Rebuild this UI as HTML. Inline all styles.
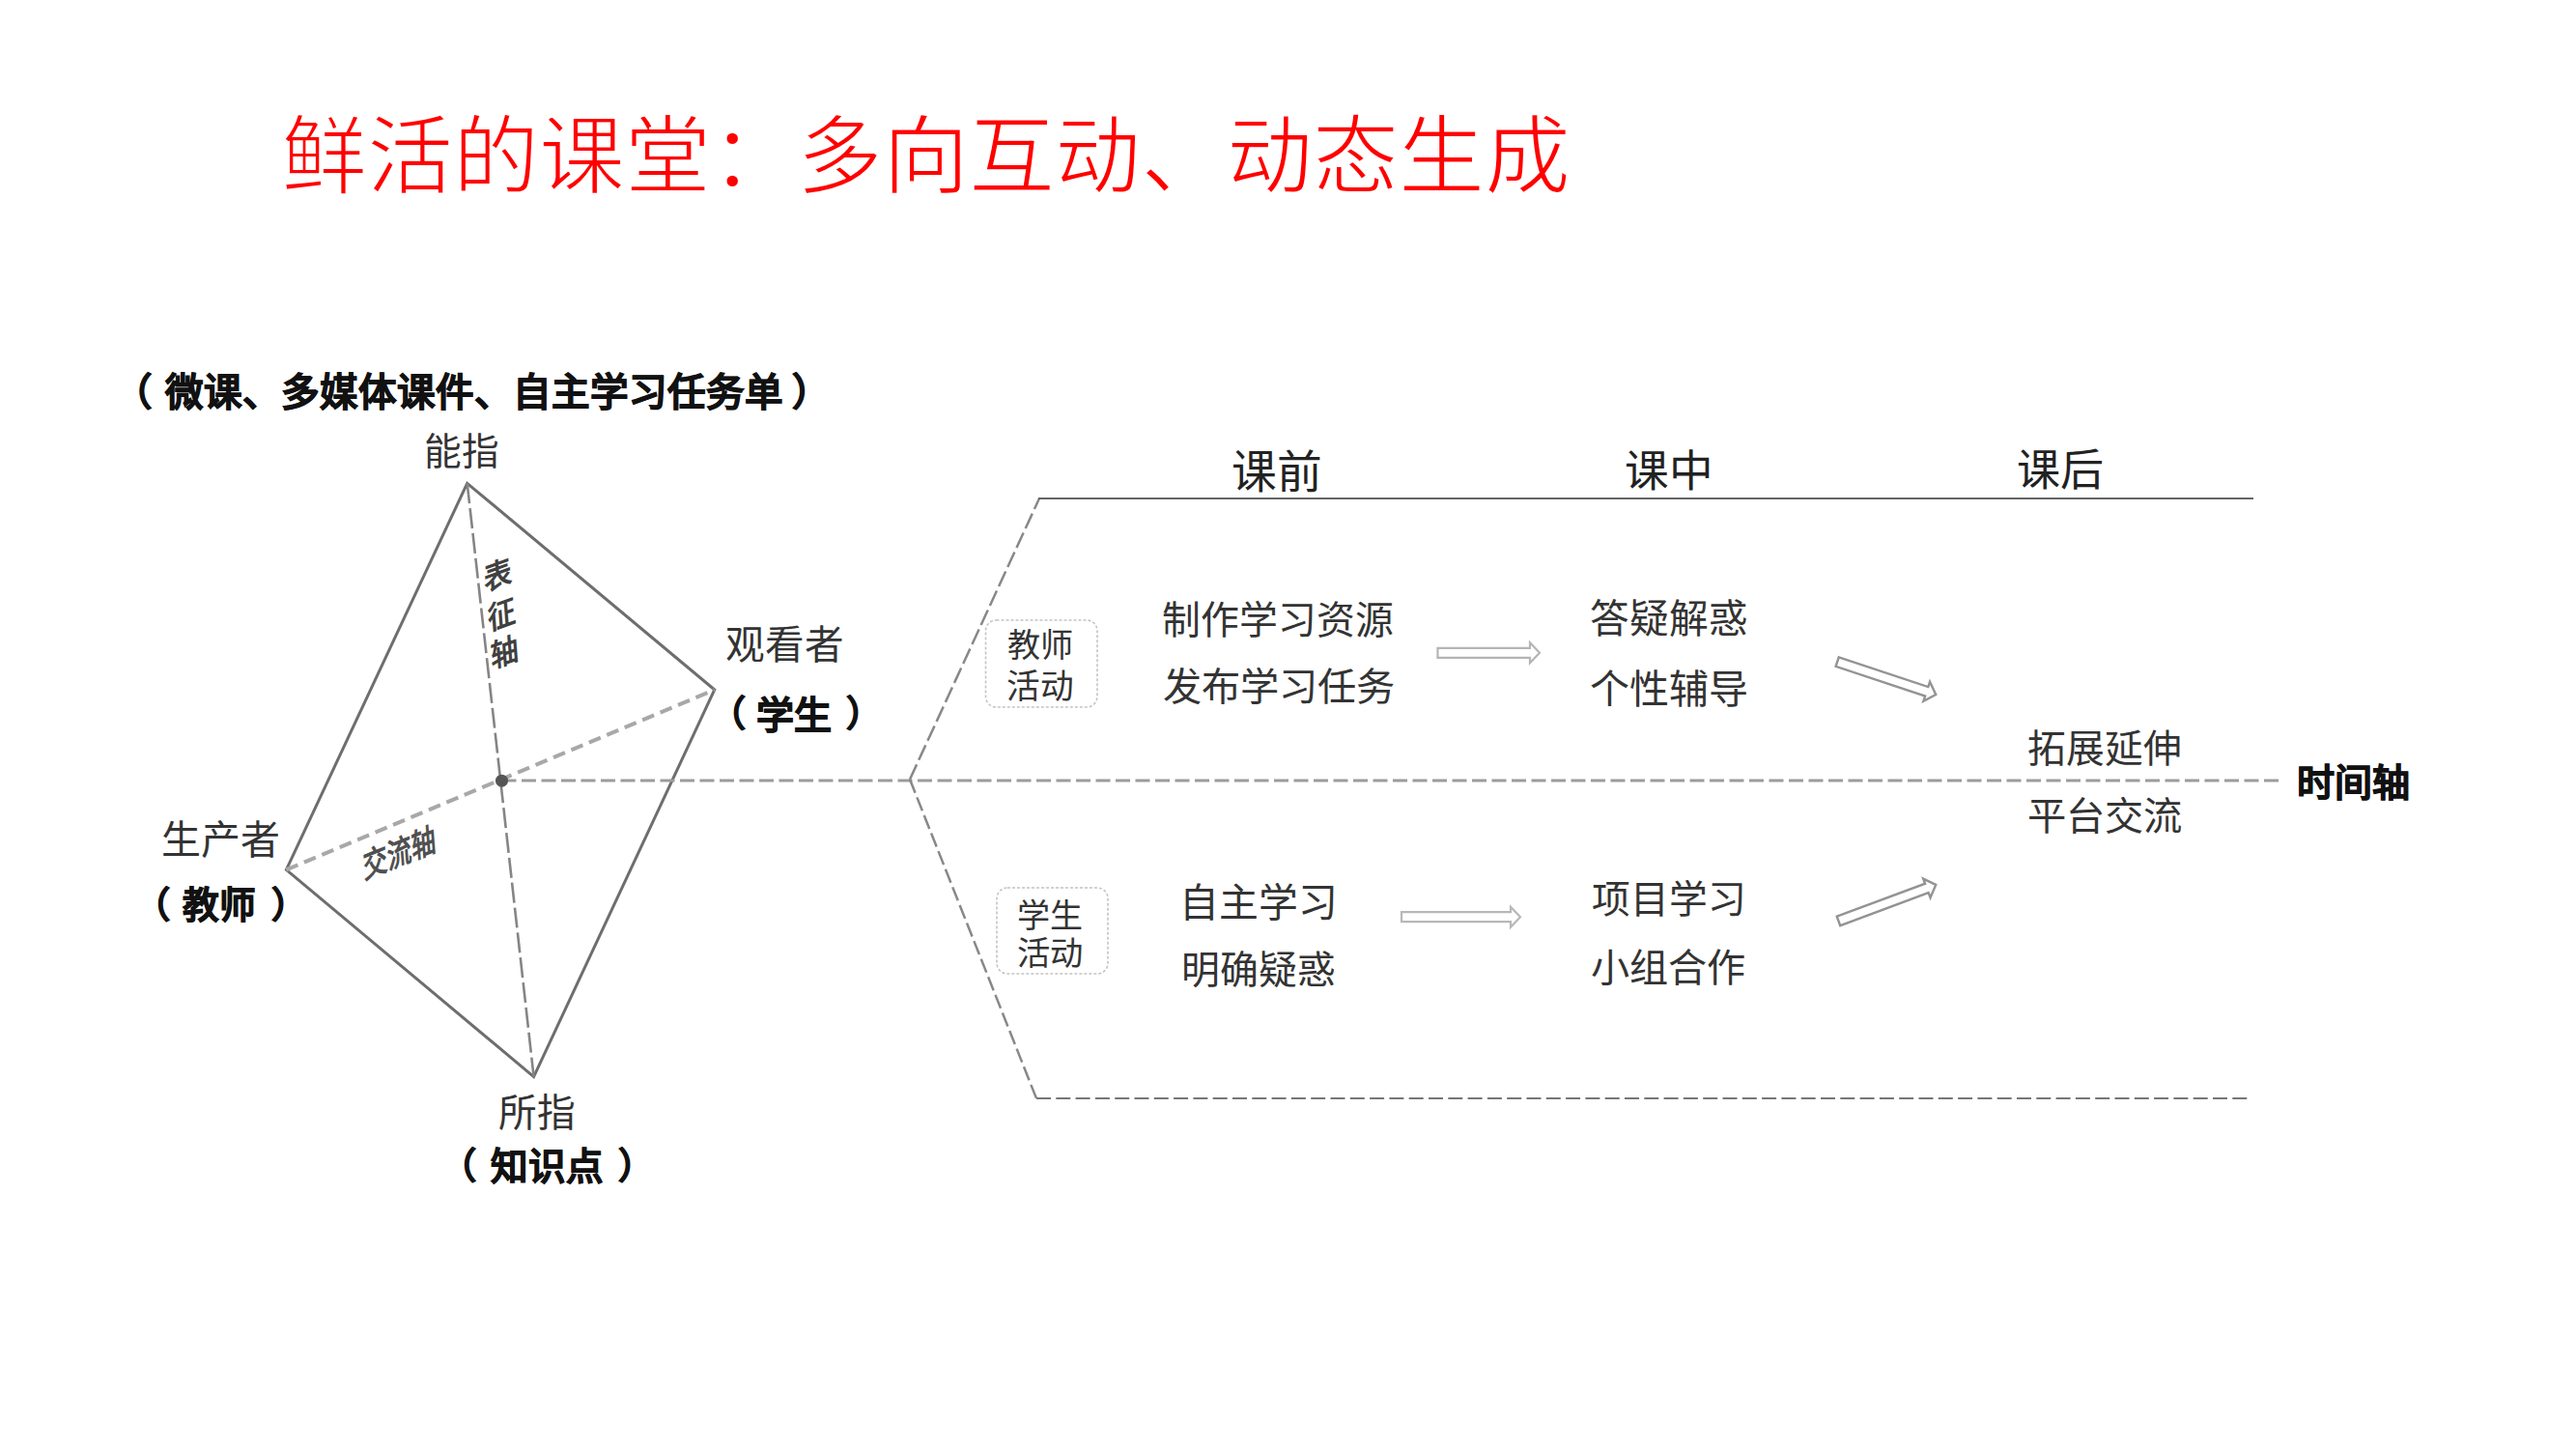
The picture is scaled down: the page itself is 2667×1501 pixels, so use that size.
<!DOCTYPE html>
<html lang="zh-CN"><head><meta charset="utf-8"><title>鲜活的课堂</title><style>
html,body{margin:0;padding:0;background:#fff;}
body{width:2667px;height:1501px;position:relative;overflow:hidden;font-family:"Liberation Sans",sans-serif;}
.t{position:absolute;white-space:nowrap;line-height:1;text-align:center;}
</style></head><body>
<svg width="2667" height="1501" viewBox="0 0 2667 1501" style="position:absolute;left:0;top:0">
<path d="M483.7,500.3 L739.8,714 L552.6,1114.6 L296.4,900.4 Z" fill="none" stroke="#6e6e6e" stroke-width="3" stroke-linejoin="miter"/>
<line x1="483.7" y1="500.3" x2="552.6" y2="1114.6" stroke="#858585" stroke-width="2.6" stroke-dasharray="21 5"/>
<line x1="296.4" y1="900.4" x2="739.8" y2="714" stroke="#a8a8a8" stroke-width="4" stroke-dasharray="13 7"/>
<line x1="519.5" y1="808" x2="2359" y2="808" stroke="#9c9c9c" stroke-width="3" stroke-dasharray="15 5.5"/>
<line x1="942" y1="806.8" x2="1076" y2="516" stroke="#888" stroke-width="2.5" stroke-dasharray="17 5"/>
<line x1="1075" y1="516" x2="2333" y2="516" stroke="#666" stroke-width="2.2"/>
<line x1="942" y1="806.8" x2="1073" y2="1137" stroke="#888" stroke-width="2.5" stroke-dasharray="15 5"/>
<line x1="1073" y1="1137" x2="2328" y2="1137" stroke="#777" stroke-width="2.2" stroke-dasharray="15 5.3"/>
<circle cx="519.5" cy="808.2" r="6.5" fill="#555"/>
<rect x="1020.5" y="642" width="115.5" height="90" rx="11" fill="none" stroke="#c4c4c4" stroke-width="1.6" stroke-dasharray="3 2"/>
<rect x="1032" y="919" width="115" height="89" rx="11" fill="none" stroke="#c4c4c4" stroke-width="1.6" stroke-dasharray="3 2"/>
<path transform="translate(1488.5,675.8) rotate(0)" d="M0,-5.0 L95.5,-5.0 L95.5,-10.5 L105.5,0 L95.5,10.5 L95.5,5.0 L0,5.0 Z" fill="none" stroke="#b5b5b5" stroke-width="2.2" stroke-linejoin="miter"/>
<path transform="translate(1451,949.2) rotate(0)" d="M0,-5.0 L113.0,-5.0 L113.0,-10.5 L123,0 L113.0,10.5 L113.0,5.0 L0,5.0 Z" fill="none" stroke="#b8b8b8" stroke-width="2.2" stroke-linejoin="miter"/>
<path transform="translate(1902.2,685.1) rotate(18.35)" d="M0,-5.0 L97.5,-5.0 L97.5,-10.5 L107.5,0 L97.5,10.5 L97.5,5.0 L0,5.0 Z" fill="none" stroke="#939393" stroke-width="2.4" stroke-linejoin="miter"/>
<path transform="translate(1903.5,953.4) rotate(-20.4)" d="M0,-5.0 L97.5,-5.0 L97.5,-10.5 L107.5,0 L97.5,10.5 L97.5,5.0 L0,5.0 Z" fill="none" stroke="#939393" stroke-width="2.4" stroke-linejoin="miter"/>
</svg>
<div class="t" id="title" style="left:290.5px;top:118.0px;width:1335.13px;font-size:89.01px;color:#ff0000;-webkit-text-stroke:2px #fff;">鲜活的课堂：多向互动、动态生成</div>
<div class="t" id="sub_l" style="left:117.8px;top:386.9px;width:39.42px;font-size:39.42px;color:#111;font-weight:700;-webkit-text-stroke:0.9px #111;">（</div>
<div class="t" id="sub" style="left:170.8px;top:386.9px;width:632.24px;font-size:39.52px;color:#111;font-weight:700;-webkit-text-stroke:0.9px #111;">微课、多媒体课件、自主学习任务单</div>
<div class="t" id="sub_r" style="left:819.3px;top:386.9px;width:39.42px;font-size:39.42px;color:#111;font-weight:700;-webkit-text-stroke:0.9px #111;">）</div>
<div class="t" id="nengzhi" style="left:439.1px;top:449.0px;width:77.39px;font-size:38.69px;color:#333;">能指</div>
<div class="t" id="guankan" style="left:751.1px;top:648.2px;width:121.82px;font-size:40.61px;color:#333;">观看者</div>
<div class="t" id="xs_l" style="left:734.5px;top:720.6px;width:37.10px;font-size:37.10px;color:#111;font-weight:700;-webkit-text-stroke:0.9px #111;">（</div>
<div class="t" id="xs" style="left:783.1px;top:720.8px;width:78.00px;font-size:39.00px;color:#111;font-weight:700;-webkit-text-stroke:0.9px #111;">学生</div>
<div class="t" id="xs_r" style="left:876.0px;top:720.6px;width:37.10px;font-size:37.10px;color:#111;font-weight:700;-webkit-text-stroke:0.9px #111;">）</div>
<div class="t" id="shengchan" style="left:167.0px;top:849.7px;width:122.79px;font-size:40.93px;color:#333;">生产者</div>
<div class="t" id="js_l" style="left:139.0px;top:919.3px;width:37.22px;font-size:37.22px;color:#111;font-weight:700;-webkit-text-stroke:0.9px #111;">（</div>
<div class="t" id="js" style="left:189.3px;top:919.4px;width:75.30px;font-size:37.65px;color:#111;font-weight:700;-webkit-text-stroke:0.9px #111;">教师</div>
<div class="t" id="js_r" style="left:281.0px;top:919.3px;width:37.22px;font-size:37.22px;color:#111;font-weight:700;-webkit-text-stroke:0.9px #111;">）</div>
<div class="t" id="suozhi" style="left:515.8px;top:1133.1px;width:79.40px;font-size:39.70px;color:#333;">所指</div>
<div class="t" id="zs_l" style="left:456.2px;top:1189.3px;width:37.22px;font-size:37.22px;color:#111;font-weight:700;-webkit-text-stroke:0.9px #111;">（</div>
<div class="t" id="zs" style="left:508.0px;top:1189.4px;width:115.51px;font-size:38.50px;color:#111;font-weight:700;-webkit-text-stroke:0.9px #111;">知识点</div>
<div class="t" id="zs_r" style="left:640.0px;top:1189.3px;width:37.22px;font-size:37.22px;color:#111;font-weight:700;-webkit-text-stroke:0.9px #111;">）</div>
<div class="t" id="kq" style="left:1275.1px;top:465.8px;width:93.56px;font-size:46.78px;color:#222;">课前</div>
<div class="t" id="kz" style="left:1682.3px;top:465.7px;width:91.27px;font-size:45.64px;color:#222;">课中</div>
<div class="t" id="kh" style="left:2088.0px;top:464.8px;width:90.17px;font-size:45.09px;color:#222;">课后</div>
<div class="t" id="jshd1" style="left:1043.2px;top:650.9px;width:68.30px;font-size:34.15px;color:#333;">教师</div>
<div class="t" id="jshd2" style="left:1042.3px;top:694.0px;width:69.38px;font-size:34.69px;color:#333;">活动</div>
<div class="t" id="zz" style="left:1203.0px;top:622.6px;width:239.33px;font-size:39.89px;color:#333;">制作学习资源</div>
<div class="t" id="fb" style="left:1203.0px;top:692.0px;width:241.43px;font-size:40.24px;color:#333;">发布学习任务</div>
<div class="t" id="dy" style="left:1646.3px;top:620.8px;width:162.82px;font-size:40.71px;color:#333;">答疑解惑</div>
<div class="t" id="gx" style="left:1646.3px;top:693.7px;width:164.26px;font-size:41.06px;color:#333;">个性辅导</div>
<div class="t" id="tz" style="left:2099.4px;top:756.1px;width:158.98px;font-size:39.74px;color:#333;">拓展延伸</div>
<div class="t" id="pt" style="left:2098.4px;top:825.7px;width:161.20px;font-size:40.30px;color:#333;">平台交流</div>
<div class="t" id="sjz" style="left:2378.1px;top:791.2px;width:117.03px;font-size:39.01px;color:#111;font-weight:700;-webkit-text-stroke:0.9px #111;">时间轴</div>
<div class="t" id="xshd1" style="left:1053.3px;top:930.6px;width:68.20px;font-size:34.10px;color:#333;">学生</div>
<div class="t" id="xshd2" style="left:1052.3px;top:969.7px;width:68.73px;font-size:34.36px;color:#333;">活动</div>
<div class="t" id="zzxx" style="left:1220.9px;top:914.5px;width:163.31px;font-size:40.83px;color:#333;">自主学习</div>
<div class="t" id="mq" style="left:1223.0px;top:985.2px;width:159.67px;font-size:39.92px;color:#333;">明确疑惑</div>
<div class="t" id="xm" style="left:1647.8px;top:912.1px;width:159.38px;font-size:39.85px;color:#333;">项目学习</div>
<div class="t" id="xz" style="left:1647.0px;top:981.8px;width:160.45px;font-size:40.11px;color:#333;">小组合作</div>
<div class="t" id="bzz" style="left:500px;top:581.5px;font-size:27px;line-height:33.5px;color:#404040;font-weight:700;transform-origin:0 0;transform:matrix(1.0525,-0.3831,0.0942,1.1963,0,0);">表<br>征<br>轴</div>
<div class="t" id="jlz" style="left:375px;top:880.5px;font-size:26px;color:#505050;font-weight:700;transform-origin:0 0;transform:matrix(0.9550,-0.3858,0.1036,1.3159,0,0);">交流轴</div>
</body></html>
